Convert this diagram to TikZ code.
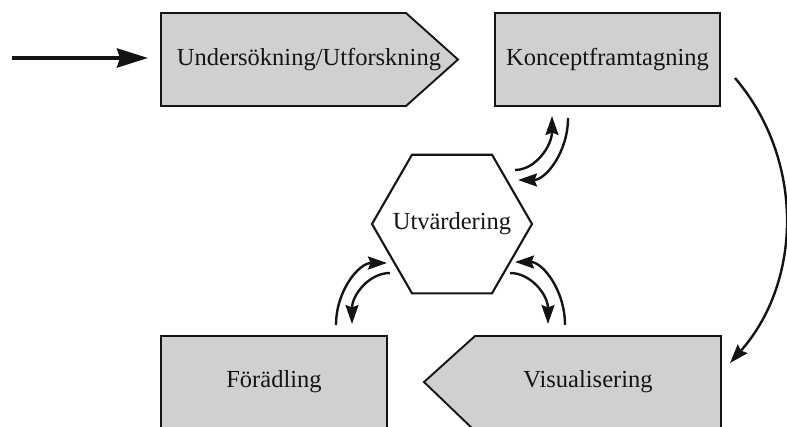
\documentclass[tikz,border=0pt]{standalone}
\usepackage{fontspec}
\setmainfont{Liberation Serif}
\usetikzlibrary{arrows.meta}
\definecolor{boxgray}{RGB}{208,208,208}
\definecolor{ink}{RGB}{20,20,20}
\begin{document}
\begin{tikzpicture}[x=1pt,y=-1pt,
  box/.style={draw=ink, line width=1.9pt, fill=boxgray, line join=miter},
  hexbox/.style={draw=ink, line width=2.1pt, fill=white, line join=miter},
  lbl/.style={font=\fontsize{24.5}{29}\selectfont, text=ink, inner sep=0pt},
  conn/.style={draw=ink, line width=2.4pt, -{Stealth[length=19pt,width=13pt,inset=2.5pt]}},
  entry/.style={draw=ink, line width=3.8pt, -{Stealth[length=31pt,width=19pt,inset=3pt]}}
]
\useasboundingbox (0,0) rectangle (787,426);
\clip (0,0) rectangle (787,426);

% shapes
\draw[box] (161,13) -- (406,13) -- (458,59.5) -- (406,106) -- (161,106) -- cycle;
\node[lbl] (und) at (309,59.5) {Undersökning/Utforskning};

\draw[box] (495,13) rectangle (720,106);
\node[lbl] (kon) at (607.5,59.5) {Konceptframtagning};

\draw[hexbox] (372,224) -- (412,154.7) -- (492,154.7) -- (532,224) -- (492,293.3) -- (412,293.3) -- cycle;
\node[lbl] (utv) at (452,224) {Utvärdering};

\draw[box] (161,336) rectangle (387,431);
\node[lbl] (for) at (274,382) {Förädling};

\draw[box] (424,382) -- (475,336) -- (721,336) -- (721,431) -- (475,431) -- cycle;
\node[lbl] (vis) at (588,382) {Visualisering};

% connector end points
\coordinate (inS) at (12,58);
\coordinate (inE) at (148,58);
\coordinate (arcS) at (735,78);
\coordinate (arcE) at (730,363);
\coordinate (trA) at (515,170);
\coordinate (trB) at (552,116);
\coordinate (trC) at (568,118);
\coordinate (trD) at (518,180);
\coordinate (llA) at (336,325);
\coordinate (llB) at (387,263);
\coordinate (llC) at (390,273);
\coordinate (llD) at (352,324);
\coordinate (lrA) at (510,273);
\coordinate (lrB) at (548,324);
\coordinate (lrC) at (565,325);
\coordinate (lrD) at (515,262);

% connectors
\draw[entry] (inS) -- (inE);
\draw[conn] (arcS) .. controls (805,160) and (802,282) .. (arcE);

\draw[conn] (trA) .. controls (535.4,170) and (552,145.8) .. (trB);
\draw[conn] (trC) .. controls (568,152.2) and (545.6,180) .. (trD);

\draw[conn] (llA) .. controls (336,290.8) and (358.8,263) .. (llB);
\draw[conn] (llC) .. controls (369,273) and (352,295) .. (llD);

\draw[conn] (lrA) .. controls (531,273) and (548,295) .. (lrB);
\draw[conn] (lrC) .. controls (565,290.2) and (542.6,262) .. (lrD);
\end{tikzpicture}
\end{document}
